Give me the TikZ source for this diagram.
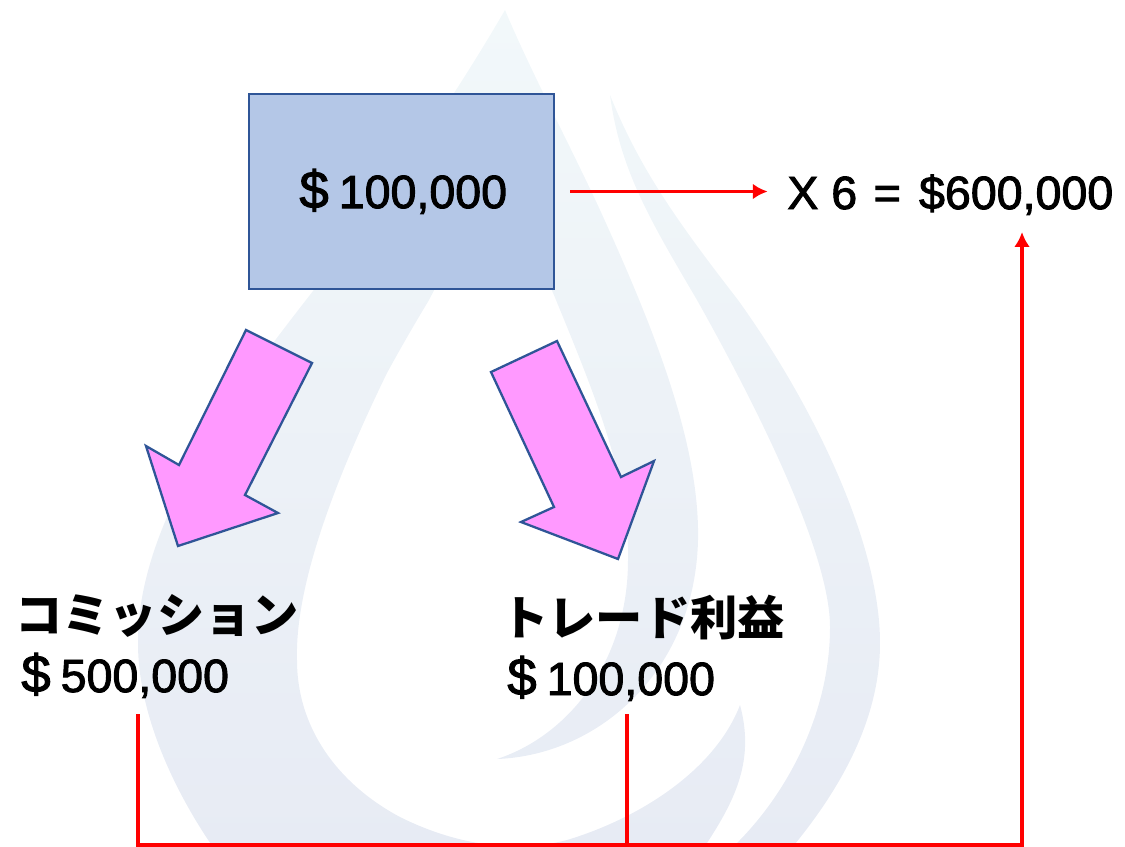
\documentclass[tikz,border=0pt]{standalone}
\usepackage{fontspec}
\setmainfont{Liberation Sans}
\newfontfamily\moneyface[FakeBold=2]{Liberation Sans}
\newfontfamily\cjk{Noto Sans CJK JP}
\usetikzlibrary{arrows.meta,calc}
\definecolor{boxfill}{HTML}{B4C7E7}
\definecolor{boxline}{HTML}{2F5597}
\definecolor{arrowpink}{HTML}{FF99FF}
\definecolor{dropTop}{HTML}{F2F8FA}
\definecolor{dropBottom}{HTML}{E7EBF4}
\newcommand{\moneysize}{\moneyface\fontsize{26.5}{30}\selectfont}
\newcommand{\bigdollar}{{\fontsize{30}{30}\selectfont\$}\hspace{5.7pt}}
\tikzset{
  money/.style={inner sep=0pt,anchor=base west,font=\moneysize},
  kana/.style={inner sep=0pt,anchor=base west,font=\cjk\bfseries\fontsize{26.9}{30}\selectfont},
  fatarrow/.style={draw=boxline,line width=1.3pt,fill=arrowpink,line join=miter},
  redline/.style={draw=red,line width=1.9pt},
  redarrow/.style={redline,-{Latex[length=8.5pt,width=9pt]}},
}
\begin{document}
\begin{tikzpicture}[x=0.02cm,y=-0.02cm]
\useasboundingbox (0,0) rectangle (1125,846);
\clip (0,0) rectangle (1125,846);

% watermark
\shade[top color=dropTop,bottom color=dropBottom]
  (505,10) .. controls (450,105) and (380,205) .. (306,300)
  .. controls (240,385) and (137,520) .. (138,643)
  .. controls (138,720) and (180,800) .. (215,850)
  -- (707,850) -- (707,843)
  .. controls (735,800) and (755,760) .. (740,705)
  .. controls (715,770) and (640,818) .. (567,840)
  .. controls (510,855) and (450,842) .. (400,817)
  .. controls (340,785) and (297,730) .. (297,660)
  .. controls (295,590) and (330,490) .. (387,373)
  .. controls (405,340) and (420,315) .. (429,300)
  .. controls (450,260) and (475,210) .. (495,160)
  .. controls (515,205) and (535,250) .. (556,300)
  .. controls (595,395) and (630,480) .. (628,560)
  .. controls (628,660) and (570,735) .. (497,759)
  .. controls (600,755) and (695,670) .. (698,540)
  .. controls (700,440) and (650,320) .. (600,210)
  .. controls (570,145) and (530,70) .. (505,10)
  -- cycle
  (610,95) .. controls (640,170) and (680,225) .. (738,300)
  .. controls (810,400) and (880,540) .. (880,643)
  .. controls (880,720) and (840,790) .. (790,850)
  -- (737,850) -- (737,843)
  .. controls (790,790) and (830,710) .. (830,627)
  .. controls (830,560) and (770,430) .. (697,300)
  .. controls (650,220) and (620,170) .. (610,95)
  -- cycle;

% box
\node[draw=boxline,line width=1.5pt,fill=boxfill,inner sep=0pt,minimum width=6.1cm,minimum height=3.9cm,font=\moneysize] (capital) at (401.5,191.5) {\hspace{2pt}\bigdollar 100,000};
\node[money] (total) at (787,209) {X 6\hspace{2pt} = \hspace{3pt}\$600,000};

% labels
\node[kana] (commission) at (15,632) {コミッション};
\node[money] (commissionval) at (21,692) {\bigdollar 500,000};
\node[kana] (trade) at (501,635) {トレード利益};
\node[money] (tradeval) at (507,695) {\bigdollar 100,000};

% block arrows
\draw[fatarrow] (246,330) -- (312,363) -- (245,495) -- (278,513) -- (178,546) -- (146,446) -- (179,465) -- cycle;
\draw[fatarrow] (491,372) -- (557,341) -- (621,477) -- (654,461) -- (618,559) -- (521,522) -- (554,507) -- cycle;

% connectors
\coordinate (busy) at (0,845);
\coordinate (commout) at ($(commissionval.base west)+(117,22)$);
\coordinate (tradeout) at ($(tradeval.base west)+(120,19)$);
\coordinate (totalin) at ($(total.base west)+(235,23)$);
\draw[redarrow,shorten <=8.5pt,shorten >=11pt] (capital.east) -- (capital.east -| total.west);
\draw[redarrow] (commout) -- (commout |- busy) -- (totalin |- busy) -- (totalin);
\draw[redline] (tradeout) -- (tradeout |- busy);
\end{tikzpicture}
\end{document}
